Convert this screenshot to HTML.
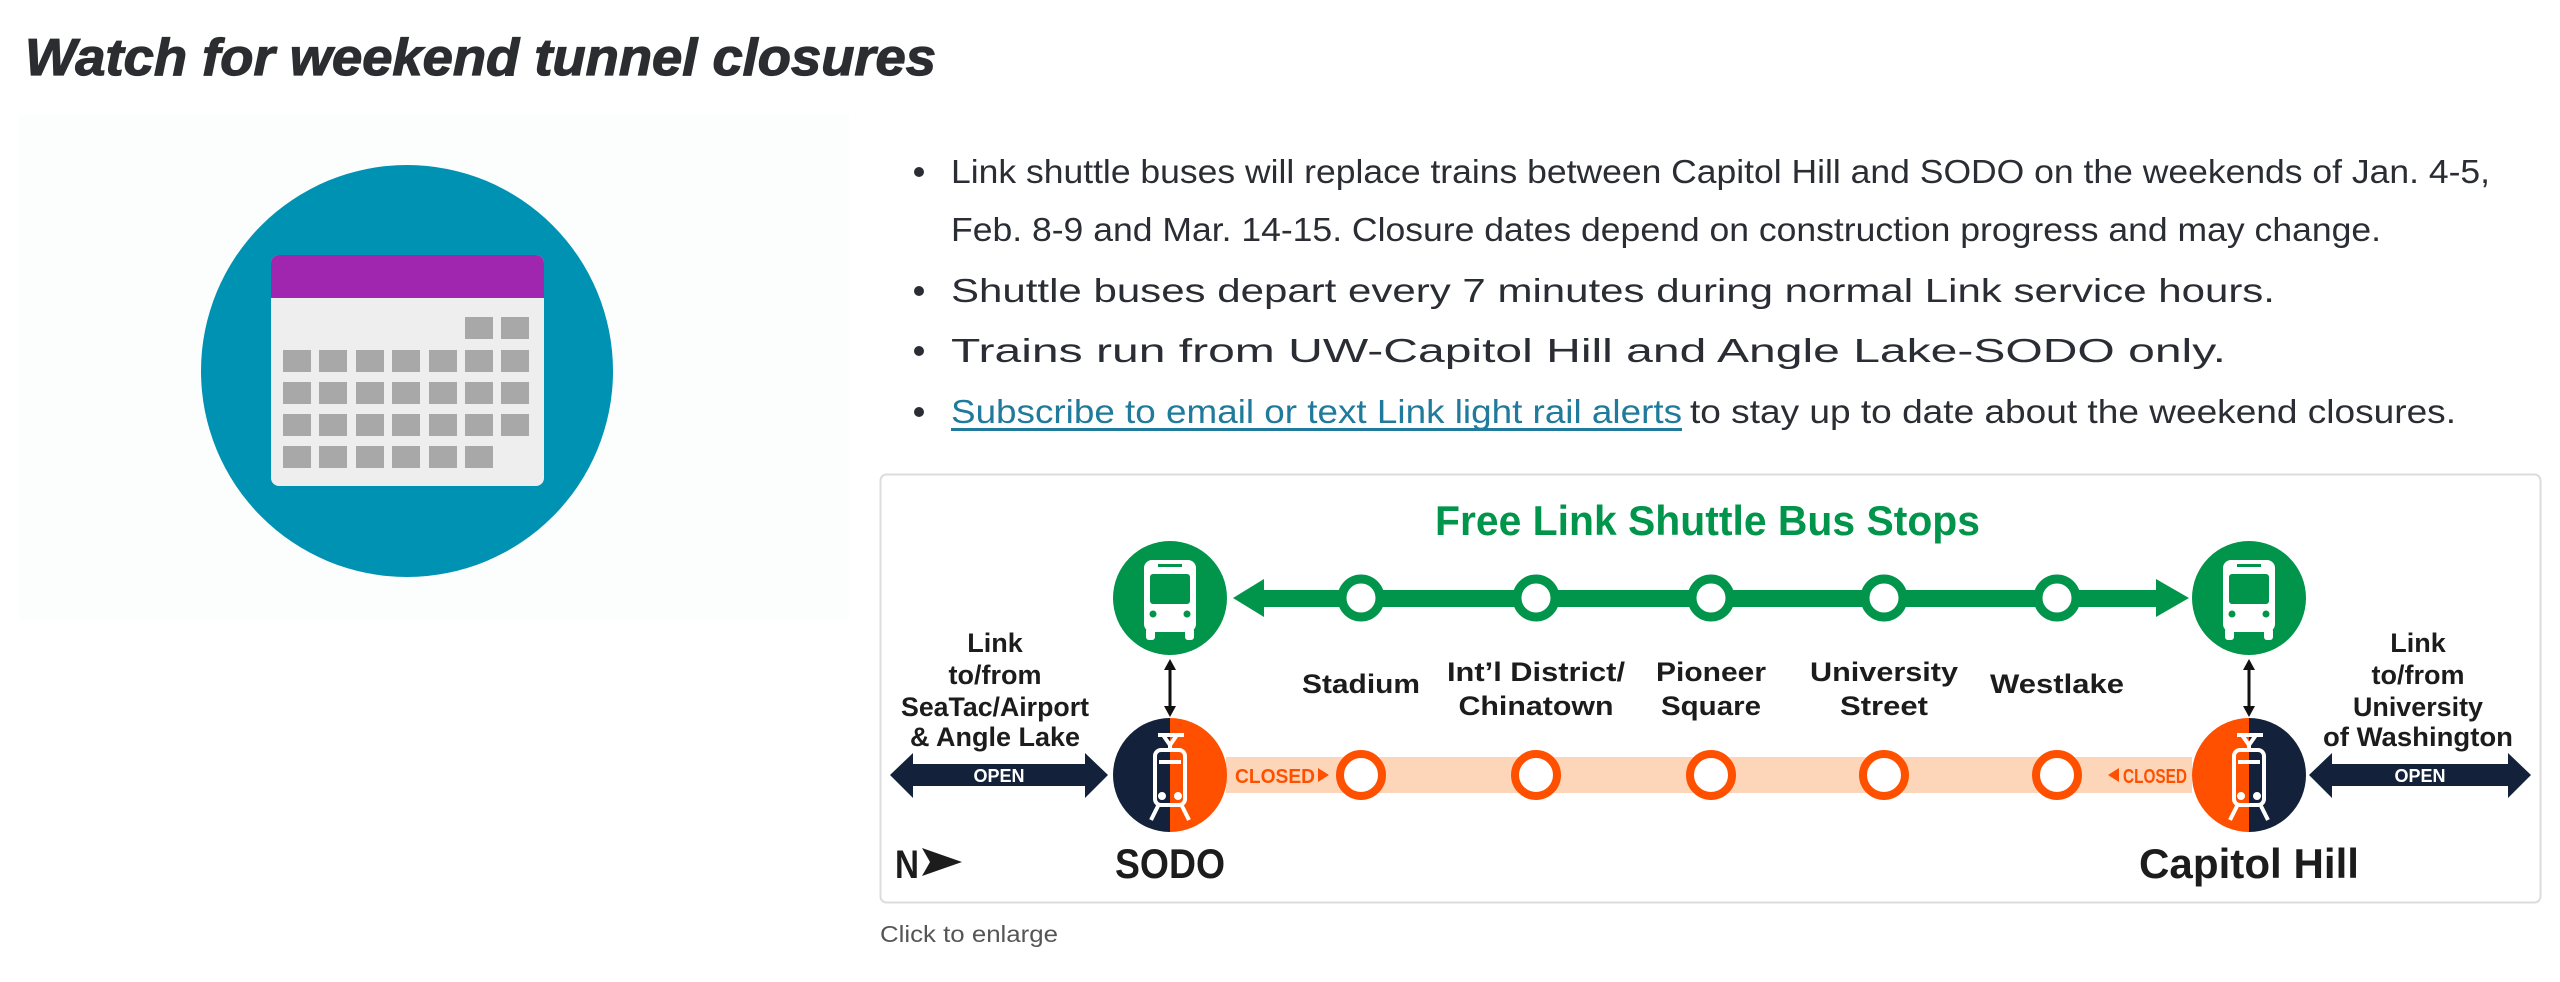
<!DOCTYPE html>
<html><head><meta charset="utf-8"><style>
html,body{margin:0;padding:0;background:#fff;}
svg{display:block;}
</style></head><body>
<svg width="2560" height="982" viewBox="0 0 2560 982" xmlns="http://www.w3.org/2000/svg">
<rect width="2560" height="982" fill="#fff"/>
<text x="25" y="75" font-family="Liberation Sans, sans-serif" font-weight="bold" font-style="italic" font-size="52" fill="#2b2d30" stroke="#2b2d30" stroke-width="1.2" textLength="911" lengthAdjust="spacingAndGlyphs">Watch for weekend tunnel closures</text>

<!-- left image panel -->
<rect x="19" y="115" width="830" height="505" fill="#fcfdfd"/>
<circle cx="407" cy="371" r="206" fill="#0092b3"/>
<rect x="271" y="255" width="273" height="231" rx="8" fill="#eeeeee"/>
<path d="M279 255 H536 A8 8 0 0 1 544 263 V298 H271 V263 A8 8 0 0 1 279 255 Z" fill="#a026b0"/>
<g fill="#a8a8a8">
<rect x="465" y="317" width="28" height="22"/><rect x="501" y="317" width="28" height="22"/>
<rect x="283" y="350" width="28" height="22"/><rect x="319" y="350" width="28" height="22"/><rect x="356" y="350" width="28" height="22"/><rect x="392" y="350" width="28" height="22"/><rect x="429" y="350" width="28" height="22"/><rect x="465" y="350" width="28" height="22"/><rect x="501" y="350" width="28" height="22"/>
<rect x="283" y="382" width="28" height="22"/><rect x="319" y="382" width="28" height="22"/><rect x="356" y="382" width="28" height="22"/><rect x="392" y="382" width="28" height="22"/><rect x="429" y="382" width="28" height="22"/><rect x="465" y="382" width="28" height="22"/><rect x="501" y="382" width="28" height="22"/>
<rect x="283" y="414" width="28" height="22"/><rect x="319" y="414" width="28" height="22"/><rect x="356" y="414" width="28" height="22"/><rect x="392" y="414" width="28" height="22"/><rect x="429" y="414" width="28" height="22"/><rect x="465" y="414" width="28" height="22"/><rect x="501" y="414" width="28" height="22"/>
<rect x="283" y="446" width="28" height="22"/><rect x="319" y="446" width="28" height="22"/><rect x="356" y="446" width="28" height="22"/><rect x="392" y="446" width="28" height="22"/><rect x="429" y="446" width="28" height="22"/><rect x="465" y="446" width="28" height="22"/>
</g>

<!-- bullets -->
<g fill="#2a2d33" font-family="Liberation Sans, sans-serif" font-size="33">
<circle cx="919" cy="172" r="5"/><circle cx="919" cy="291" r="5"/><circle cx="919" cy="351" r="5"/><circle cx="919" cy="412" r="5"/>
<text x="951" y="183" textLength="1539" lengthAdjust="spacingAndGlyphs">Link shuttle buses will replace trains between Capitol Hill and SODO on the weekends of Jan. 4-5,</text>
<text x="951" y="241" textLength="1430" lengthAdjust="spacingAndGlyphs">Feb. 8-9 and Mar. 14-15. Closure dates depend on construction progress and may change.</text>
<text x="951" y="302" textLength="1324" lengthAdjust="spacingAndGlyphs">Shuttle buses depart every 7 minutes during normal Link service hours.</text>
<text x="951" y="362" textLength="1275" lengthAdjust="spacingAndGlyphs">Trains run from UW-Capitol Hill and Angle Lake-SODO only.</text>
<text x="951" y="423" fill="#1f7a9c" textLength="731" lengthAdjust="spacingAndGlyphs">Subscribe to email or text Link light rail alerts</text>
<text x="1690" y="423" textLength="766" lengthAdjust="spacingAndGlyphs">to stay up to date about the weekend closures.</text>
</g>
<rect x="951" y="428" width="731" height="3" fill="#1f7a9c"/>

<!-- diagram box -->
<rect x="880.5" y="474.5" width="1660" height="428" rx="6" fill="#fff" stroke="#dcdcdc" stroke-width="2"/>
<text x="1435" y="535" font-family="Liberation Sans, sans-serif" font-weight="bold" font-size="42" fill="#00954a" textLength="545" lengthAdjust="spacingAndGlyphs">Free Link Shuttle Bus Stops</text>

<!-- green line -->
<rect x="1255" y="590" width="910" height="17" fill="#00954a"/>
<polygon points="1233,598 1264,579 1264,617" fill="#00954a"/>
<polygon points="2189,598 2156,579 2156,617" fill="#00954a"/>
<g fill="#fff" stroke="#00954a" stroke-width="9">
<circle cx="1361" cy="598" r="19"/><circle cx="1536" cy="598" r="19"/><circle cx="1711" cy="598" r="19"/><circle cx="1884" cy="598" r="19"/><circle cx="2057" cy="598" r="19"/>
</g>

<!-- bus circles -->
<g id="bus">
<circle cx="1170" cy="598" r="57" fill="#00954a"/>
<rect x="1144" y="560" width="52" height="72" rx="8" fill="#fff"/>
<rect x="1150" y="574" width="40" height="30" rx="3" fill="#00954a"/>
<rect x="1158" y="564" width="24" height="3" fill="#00954a"/>
<circle cx="1153" cy="614" r="3.5" fill="#00954a"/><circle cx="1187" cy="614" r="3.5" fill="#00954a"/>
<rect x="1146" y="628" width="9" height="12" rx="3" fill="#fff"/><rect x="1185" y="628" width="9" height="12" rx="3" fill="#fff"/>
</g>
<use href="#bus" x="1079"/>

<!-- vertical double arrows -->
<g stroke="#111" stroke-width="3" fill="#111">
<line x1="1170" y1="666" x2="1170" y2="710"/><line x1="2249" y1="666" x2="2249" y2="710"/>
</g>
<g fill="#111">
<polygon points="1170,659 1164,670 1176,670"/><polygon points="1170,717 1164,706 1176,706"/>
<polygon points="2249,659 2243,670 2255,670"/><polygon points="2249,717 2243,706 2255,706"/>
</g>

<!-- orange band -->
<rect x="1226" y="757" width="966" height="36" fill="#fdd6ba"/>
<g fill="#fff" stroke="#ff5000" stroke-width="8">
<circle cx="1361" cy="775" r="21"/><circle cx="1536" cy="775" r="21"/><circle cx="1711" cy="775" r="21"/><circle cx="1884" cy="775" r="21"/><circle cx="2057" cy="775" r="21"/>
</g>
<g font-family="Liberation Sans, sans-serif" font-weight="bold" font-size="20" fill="#ff5000">
<text x="1235" y="783" textLength="80" lengthAdjust="spacingAndGlyphs">CLOSED</text>
<polygon points="1329,775 1318,768 1318,782"/>
<polygon points="2108,775 2119,768 2119,782"/>
<text x="2123" y="783" textLength="64" lengthAdjust="spacingAndGlyphs">CLOSED</text>
</g>

<!-- train circles -->
<path d="M1170 718 A57 57 0 0 0 1170 832 Z" fill="#13223a"/>
<path d="M1170 718 A57 57 0 0 1 1170 832 Z" fill="#ff5000"/>
<path d="M2249 718 A57 57 0 0 0 2249 832 Z" fill="#ff5000"/>
<path d="M2249 718 A57 57 0 0 1 2249 832 Z" fill="#13223a"/>
<g id="train" fill="none" stroke="#fff" stroke-width="4">
<path d="M1158 735 H1184 M1163 735 L1170 745 L1177 735 M1170 745 V750"/>
<rect x="1155" y="750" width="30" height="55" rx="6"/>
<line x1="1159" y1="762" x2="1181" y2="762"/>
<circle cx="1162" cy="796" r="2" fill="#fff"/><circle cx="1178" cy="796" r="2" fill="#fff"/>
<path d="M1158 806 L1151 820 M1182 806 L1189 820"/>
</g>
<use href="#train" x="1079"/>

<!-- open arrows -->
<g fill="#13223a">
<polygon points="890,775 913,753 913,764 1085,764 1085,753 1108,775 1085,798 1085,786 913,786 913,798"/>
<polygon points="2309,775 2332,753 2332,764 2508,764 2508,753 2531,775 2508,798 2508,786 2332,786 2332,798"/>
</g>
<g font-family="Liberation Sans, sans-serif" font-weight="bold" font-size="18" fill="#fff" text-anchor="middle">
<text x="999" y="782">OPEN</text><text x="2420" y="782">OPEN</text>
</g>

<!-- labels -->
<g font-family="Liberation Sans, sans-serif" font-weight="bold" font-size="27" fill="#1c1c1c" text-anchor="middle">
<text x="995" y="652">Link</text>
<text x="995" y="684">to/from</text>
<text x="995" y="716" textLength="188" lengthAdjust="spacingAndGlyphs">SeaTac/Airport</text>
<text x="995" y="746" textLength="170" lengthAdjust="spacingAndGlyphs">&amp; Angle Lake</text>
<text x="2418" y="652">Link</text>
<text x="2418" y="684">to/from</text>
<text x="2418" y="716" textLength="130" lengthAdjust="spacingAndGlyphs">University</text>
<text x="2418" y="746" textLength="190" lengthAdjust="spacingAndGlyphs">of Washington</text>
<text x="1361" y="693" textLength="118" lengthAdjust="spacingAndGlyphs">Stadium</text>
<text x="1536" y="681" textLength="178" lengthAdjust="spacingAndGlyphs">Int’l District/</text>
<text x="1536" y="715" textLength="155" lengthAdjust="spacingAndGlyphs">Chinatown</text>
<text x="1711" y="681" textLength="110" lengthAdjust="spacingAndGlyphs">Pioneer</text>
<text x="1711" y="715" textLength="100" lengthAdjust="spacingAndGlyphs">Square</text>
<text x="1884" y="681" textLength="148" lengthAdjust="spacingAndGlyphs">University</text>
<text x="1884" y="715" textLength="88" lengthAdjust="spacingAndGlyphs">Street</text>
<text x="2057" y="693" textLength="134" lengthAdjust="spacingAndGlyphs">Westlake</text>
<text x="1170" y="878" font-size="42" textLength="110" lengthAdjust="spacingAndGlyphs">SODO</text>
<text x="2249" y="878" font-size="42" textLength="220" lengthAdjust="spacingAndGlyphs">Capitol Hill</text>
</g>
<text x="895" y="878" font-family="Liberation Sans, sans-serif" font-weight="bold" font-size="40" fill="#1c1c1c" textLength="24" lengthAdjust="spacingAndGlyphs">N</text>
<polygon points="922,848 962,862 922,876 930,862" fill="#1c1c1c"/>

<text x="880" y="942" font-family="Liberation Sans, sans-serif" font-size="23" fill="#555" textLength="178" lengthAdjust="spacingAndGlyphs">Click to enlarge</text>
</svg>
</body></html>
